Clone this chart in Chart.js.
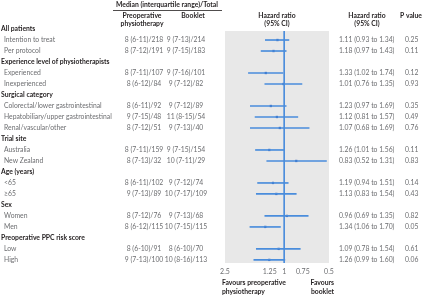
<!DOCTYPE html>
<html>
<head>
<meta charset="utf-8">
<script src="https://cdn.jsdelivr.net/npm/chart.js@4.4.1/dist/chart.umd.min.js"></script>
<style>
  html, body { margin: 0; background: #fff; }
  #wrap { position: relative; width: 423px; height: 298px; }
</style>
</head>
<body>
<div id="wrap"><canvas id="forest"></canvas></div>
<script>
(() => {
    'use strict';

    // data
    const groupTitles = ['All patients', 'Experience level of physiotherapists', 'Surgical category', 'Trial site', 'Age (years)', 'Sex', 'Preoperative PPC risk score'];
    const groupSizes = [2, 2, 3, 2, 2, 2, 2];
    const subgroups = ['Intention to treat', 'Per protocol', 'Experienced', 'Inexperienced', 'Colorectal/lower gastrointestinal', 'Hepatobiliary/upper gastrointestinal', 'Renal/vascular/other', 'Australia', 'New Zealand', '<65', '≥65', 'Women', 'Men', 'Low', 'High'];
    const preopMedian = ['8 (6-11)/218', '8 (7-12)/191', '8 (7-11)/107', '8 (6-12)/84', '8 (6-11)/92', '9 (7-15)/48', '8 (7-12)/51', '8 (7-11)/159', '8 (7-13)/32', '8 (6-11)/102', '9 (7-13)/89', '8 (7-12)/76', '8 (6-12)/115', '8 (6-10)/91', '9 (7-13)/100'];
    const bookletMedian = ['9 (7-13)/214', '9 (7-15)/183', '9 (7-16)/101', '9 (7-12)/82', '9 (7-12)/89', '11 (8-15)/54', '9 (7-13)/40', '9 (7-15)/154', '10 (7-11)/29', '9 (7-12)/74', '10 (7-17)/109', '9 (7-13)/68', '10 (7-15)/115', '8 (6-10)/70', '10 (8-16)/113'];
    const hazardRatio = [1.11, 1.18, 1.33, 1.01, 1.23, 1.12, 1.07, 1.26, 0.83, 1.19, 1.13, 0.96, 1.34, 1.09, 1.26];
    const ciLow = [0.93, 0.97, 1.02, 0.76, 0.97, 0.81, 0.68, 1.01, 0.52, 0.94, 0.83, 0.69, 1.06, 0.78, 0.99];
    const ciHigh = [1.34, 1.43, 1.74, 1.35, 1.69, 1.57, 1.69, 1.56, 1.31, 1.51, 1.54, 1.35, 1.70, 1.54, 1.60];
    const pValues = ['0.25', '0.11', '0.12', '0.93', '0.35', '0.49', '0.76', '0.11', '0.83', '0.14', '0.43', '0.82', '0.05', '0.61', '0.06'];
    const xTicks = [2.5, 1.25, 1, 0.75, 0.5];

    const lineBlue = '#4a8ddc';
    const dotBlue = '#2456b4';
    const panelGrey = '#e8e8e8';
    const darkText = '#231f20';
    const greyText = '#6d6e71';
    const family = 'Lato, "Open Sans", sans-serif';

    // row index of every heading and subgroup, top to bottom
    const headingRow = [];
    const dataRow = [];
    let r = 0;
    groupSizes.forEach((n, g) => {
        headingRow[g] = r++;
        for (let k = 0; k < n; k++) dataRow.push(r++);
    });
    const yTop = 0.18, yBottom = r - 1 + 0.28;

    const fmt = v => v.toFixed(2);

    const panel = {
        id: 'panel',
        beforeDatasetsDraw(chart) {
            const { ctx, chartArea: a } = chart;
            ctx.save();
            ctx.fillStyle = panelGrey;
            ctx.fillRect(a.left, a.top, a.right - a.left, a.bottom - a.top);
            ctx.restore();
        }
    };

    const table = {
        id: 'table',
        afterDraw(chart) {
            const { ctx } = chart;
            const y = chart.scales.y;
            const text = (s, x, yy, align, font, color) => {
                ctx.font = font;
                ctx.fillStyle = color;
                ctx.textAlign = align;
                ctx.textBaseline = 'middle';
                ctx.fillText(s, x, yy);
            };
            const bold = `bold 6.8px ${family}`;
            const plain = `6.8px ${family}`;
            ctx.save();

            // column headers
            text('Median (interquartile range)/Total', 167, 5, 'center', bold, darkText);
            ctx.strokeStyle = darkText;
            ctx.lineWidth = 0.8;
            ctx.beginPath();
            ctx.moveTo(113, 10.5);
            ctx.lineTo(222, 10.5);
            ctx.stroke();
            text('Preoperative', 142, 16, 'center', bold, darkText);
            text('physiotherapy', 142, 24, 'center', bold, darkText);
            text('Booklet', 193, 16, 'center', bold, darkText);
            text('Hazard ratio', 277, 16, 'center', bold, darkText);
            text('(95% CI)', 277, 24, 'center', bold, darkText);
            text('Hazard ratio', 367, 16, 'center', bold, darkText);
            text('(95% CI)', 367, 24, 'center', bold, darkText);
            text('P value', 422, 16, 'right', bold, darkText);

            groupTitles.forEach((t, g) => text(t, 1, y.getPixelForValue(headingRow[g]), 'left', bold, darkText));
            subgroups.forEach((t, i) => {
                const yy = y.getPixelForValue(dataRow[i]);
                text(t, 4, yy, 'left', plain, greyText);
                text(preopMedian[i], 144, yy, 'center', plain, greyText);
                text(bookletMedian[i], 186, yy, 'center', plain, greyText);
                text(`${fmt(hazardRatio[i])} (${fmt(ciLow[i])} to ${fmt(ciHigh[i])})`, 339, yy, 'left', plain, greyText);
                text(pValues[i], 405, yy, 'left', plain, greyText);
            });

            // favours labels under the axis
            text('Favours preoperative', 222, 283, 'left', bold, darkText);
            text('physiotherapy', 222, 292, 'left', bold, darkText);
            text('Favours', 334, 283, 'right', bold, darkText);
            text('booklet', 334, 292, 'right', bold, darkText);
            ctx.restore();
        }
    };

    new Chart(document.getElementById('forest'), {
        type: 'bar',
        data: {
            datasets: [
                {
                    type: 'line',
                    data: [{ x: 1, y: yTop }, { x: 1, y: yBottom }],
                    borderColor: lineBlue,
                    borderWidth: 1,
                    pointRadius: 0
                },
                {
                    type: 'bar',
                    data: subgroups.map((_, i) => ({ x: [ciLow[i], ciHigh[i]], y: dataRow[i] })),
                    backgroundColor: lineBlue,
                    barThickness: 1
                },
                {
                    type: 'scatter',
                    data: subgroups.map((_, i) => ({ x: hazardRatio[i], y: dataRow[i] })),
                    backgroundColor: dotBlue,
                    borderWidth: 0,
                    pointStyle: 'rect',
                    pointRadius: 1.6
                }
            ]
        },
        options: {
            indexAxis: 'y',
            responsive: true,
            maintainAspectRatio: false,
            animation: false,
            events: [],
            layout: { padding: { left: 225, right: 94, top: 31, bottom: 0 } },
            plugins: { legend: { display: false }, tooltip: { enabled: false } },
            scales: {
                x: {
                    type: 'logarithmic',
                    reverse: true,
                    min: 0.5,
                    max: 2.5,
                    grid: { display: false, drawTicks: false },
                    border: { display: false },
                    afterBuildTicks: s => { s.ticks = xTicks.map(v => ({ value: v })); },
                    afterFit: s => { s.height = 35; },
                    ticks: { padding: 5, color: greyText, font: { family, size: 7 }, callback: v => String(v), autoSkip: false, maxRotation: 0 }
                },
                y: {
                    type: 'linear',
                    display: false,
                    reverse: true,
                    min: yTop,
                    max: yBottom,
                    offset: false
                }
            }
        },
        plugins: [panel, table]
    });
})();
</script>
</body>
</html>
